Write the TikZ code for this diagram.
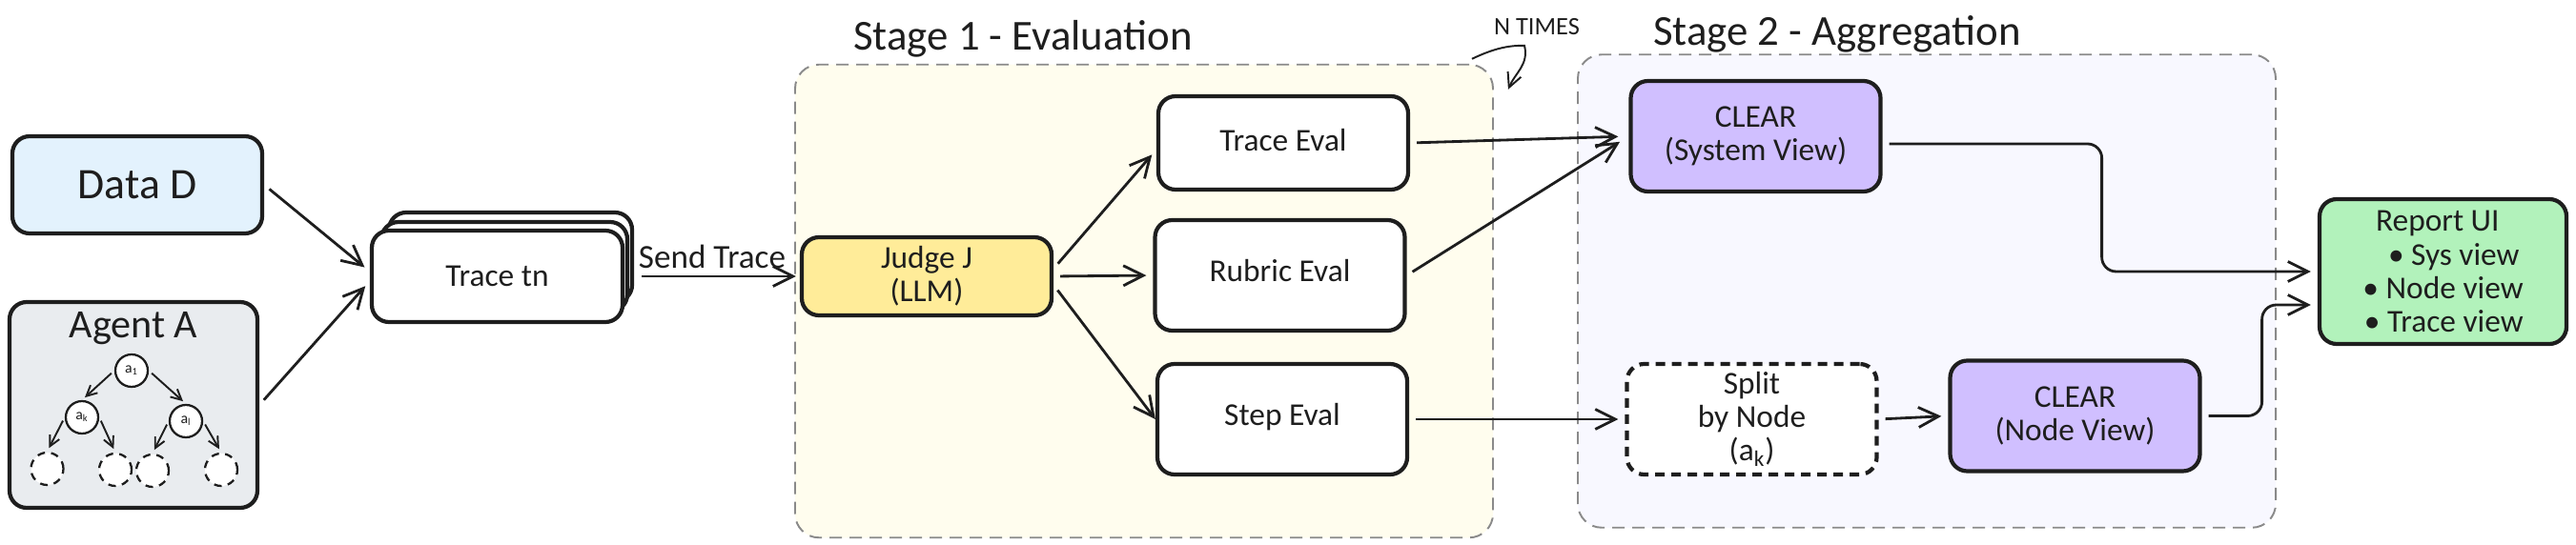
\documentclass[tikz,border=0pt]{standalone}
\usepackage{fontspec}
\setmainfont{Carlito}
\usetikzlibrary{positioning}
\usetikzlibrary{backgrounds}
\usetikzlibrary{arrows.meta}
\definecolor{ink}{HTML}{1E1E1E}
\definecolor{datablue}{HTML}{E3F2FD}
\definecolor{agentgrey}{HTML}{E9ECEF}
\definecolor{judgeyellow}{HTML}{FFEC99}
\definecolor{clearviolet}{HTML}{D0BFFF}
\definecolor{reportgreen}{HTML}{B2F2BB}
\definecolor{stageyellow}{HTML}{FFFDEE}
\definecolor{stageviolet}{HTML}{F8F8FF}
\definecolor{stagegrey}{HTML}{8A8A8A}
\tikzset{
	block/.style={draw=ink, rectangle, rounded corners=0.36cm, line width=2.4pt, inner sep=2pt, text=ink, align=center, minimum width=5.24cm, minimum height=2.32cm, font=\fontsize{19}{20}\selectfont},
	splitblock/.style={block, dash pattern=on 0.2cm off 0.14cm},
	stagebox/.style={draw=stagegrey, rectangle, rounded corners=0.5cm, line width=1.1pt, dash pattern=on 0.26cm off 0.16cm, minimum width=14.64cm, minimum height=9.93cm},
	stagetitle/.style={text=ink, inner sep=0pt, font=\fontsize{25.5}{27}\selectfont},
	treenode/.style={draw=ink, circle, line width=1.3pt, inner sep=0pt, minimum size=0.68cm, fill=white, text=ink, font=\fontsize{9}{10}\selectfont},
	leaf/.style={treenode, dash pattern=on 0.16cm off 0.13cm},
}

\begin{document}
\begin{tikzpicture}
		\useasboundingbox (0,0) rectangle (54.04,-11.44);
		
		\node (data) [block, fill=datablue, minimum height=2.04cm, font=\fontsize{26}{28}\selectfont] at (2.88,-3.88) {Data D};
		\node (agent) [block, fill=agentgrey, below of=data, xshift=-0.08cm, yshift=-3.62cm, minimum width=5.2cm, minimum height=4.32cm] {};
		\node (agentlabel) [stagetitle, font=\fontsize{24}{26}\selectfont, above of=agent, yshift=0.61cm] {Agent A};
		
		\node (treea) [treenode, above of=agent, xshift=-0.04cm, yshift=-0.28cm] {a\textsubscript{1}};
		\node (treek) [treenode, below of=treea, xshift=-1.04cm, yshift=0.02cm] {a\textsubscript{k}};
		\node (treel) [treenode, below of=treea, xshift=1.14cm, yshift=-0.06cm] {a\textsubscript{l}};
		\node (leafa) [leaf, below of=treek, xshift=-0.73cm, yshift=-0.08cm] {};
		\node (leafb) [leaf, below of=treek, xshift=0.7cm, yshift=-0.1cm] {};
		\node (leafc) [leaf, below of=treel, xshift=-0.7cm, yshift=-0.04cm] {};
		\node (leafd) [leaf, below of=treel, xshift=0.74cm, yshift=-0.02cm] {};
		
		\node (tracec) [block, fill=white, right of=data, xshift=6.83cm, yshift=-1.52cm, minimum width=5.1cm, minimum height=1.88cm] {};
		\node (traceb) [block, fill=white, below of=tracec, xshift=-0.13cm, yshift=0.8cm, minimum width=5.16cm, minimum height=1.88cm] {};
		\node (tracea) [block, fill=white, below of=traceb, xshift=-0.15cm, yshift=0.8cm, minimum width=5.26cm, minimum height=1.92cm] {Trace tn};
		
		\node (judge) [block, fill=judgeyellow, right of=tracea, xshift=8.01cm, minimum height=1.64cm] {Judge J\\(LLM)};
		
		\node (traceeval) [block, fill=white, text depth=0.14cm, right of=judge, xshift=6.48cm, yshift=2.8cm, minimum height=1.96cm] {Trace Eval};
		\node (rubric) [block, fill=white, text depth=0.2cm, below of=traceeval, xshift=-0.07cm, yshift=-1.78cm] {Rubric Eval};
		\node (stepeval) [block, fill=white, text depth=0.2cm, below of=rubric, xshift=0.05cm, yshift=-2.02cm] {Step Eval};
		
		\node (clearsys) [block, fill=clearviolet, right of=traceeval, xshift=8.91cm, yshift=0.14cm] {CLEAR\\(System View)};
		\node (split) [splitblock, fill=white, right of=stepeval, xshift=8.85cm] {Split\\by Node\\(a\textsubscript{k})};
		\node (clearnode) [block, fill=clearviolet, right of=split, xshift=5.78cm, yshift=0.07cm] {CLEAR\\(Node View)};
		\node (report) [block, fill=reportgreen, right of=clearsys, xshift=13.42cm, yshift=-2.84cm, minimum width=5.18cm, minimum height=3.04cm, align=right] {Report UI\rule{0.5cm}{0pt}\\• Sys view\rule{0.08cm}{0pt}\\• Node view\\• Trace view};
		
		\begin{scope}[on background layer]
			\node (stage1) [stagebox, fill=stageyellow, right of=judge, xshift=3.56cm, yshift=-0.52cm] {};
			\node (stage2) [stagebox, fill=stageviolet, right of=stage1, xshift=15.42cm, yshift=0.21cm] {};
		\end{scope}
		
		\node (stage1label) [stagetitle, above of=stage1, xshift=-2.54cm, yshift=4.5cm] {Stage 1 - Evaluation};
		\node (stage2label) [stagetitle, above of=stage2, xshift=-1.88cm, yshift=4.39cm] {Stage 2 - Aggregation};
		\node (ntimes) [text=ink, inner sep=0pt, font=\fontsize{15}{16}\selectfont, above of=stage1, xshift=8.24cm, yshift=4.75cm] {N TIMES};
		
		\coordinate (loopstart) at ([xshift=-0.46cm,yshift=0.1cm]stage1.north east);
		\coordinate (looptop) at ([xshift=0.64cm,yshift=0.38cm]stage1.north east);
		\coordinate (loopend) at ([xshift=0.3cm,yshift=-0.54cm]stage1.north east);
		
		\begin{scope}[line width=1.6pt, ink, ->, >={Straight Barb[length=0.42cm,width=0.42cm]}, shorten >=0.14cm, shorten <=0.14cm]
			\draw (data.east) -- ([yshift=0.1cm]tracea.west);
			\draw (agent.east) -- ([yshift=-0.1cm]tracea.west);
			\draw [shorten <=0.36cm, shorten >=0.08cm] (tracea.east) -- node[above=0.14cm, text=ink, inner sep=0pt, font=\fontsize{20}{22}\selectfont] (sendlabel) {Send Trace} (judge.west);
			
			\draw ([yshift=0.16cm]judge.east) -- ([yshift=-0.14cm]traceeval.west);
			\draw (judge.east) -- (rubric.west);
			\draw [shorten >=0cm] ([yshift=-0.18cm]judge.east) -- (stepeval.west);
			
			\draw [shorten >=0.22cm] (traceeval.east) -- (clearsys.west);
			\draw [shorten >=0.22cm] (rubric.east) -- (clearsys.west);
			\draw (stepeval.east) -- (split.west);
			\draw (split.east) -- (clearnode.west);
			
			\draw [rounded corners=0.3cm] ([yshift=-0.16cm]clearsys.east) -- ++(4.6,0) |- (report.west);
			\draw [rounded corners=0.3cm] (clearnode.east) -- ++(1.26,0) |- ([yshift=-0.7cm]report.west);
		\end{scope}
		
		\draw [line width=1.1pt, ink, ->, >={Straight Barb[length=0.3cm,width=0.3cm]}] (loopstart) .. controls +(0.5,0.24) and +(-0.3,0) .. (looptop) .. controls +(0.1,-0.4) and +(0.14,0.34) .. (loopend);
		
		\begin{scope}[line width=1.1pt, ink, ->, >={Straight Barb[length=0.22cm,width=0.22cm]}, shorten >=0.08cm, shorten <=0.08cm]
			\draw (treea.west) -- (treek.north);
			\draw (treea.east) -- (treel.north);
			\draw (treek.west) -- (leafa.north);
			\draw (treek.east) -- (leafb.north);
			\draw (treel.west) -- (leafc.north);
			\draw (treel.east) -- (leafd.north);
		\end{scope}
	\end{tikzpicture}
\end{document}
